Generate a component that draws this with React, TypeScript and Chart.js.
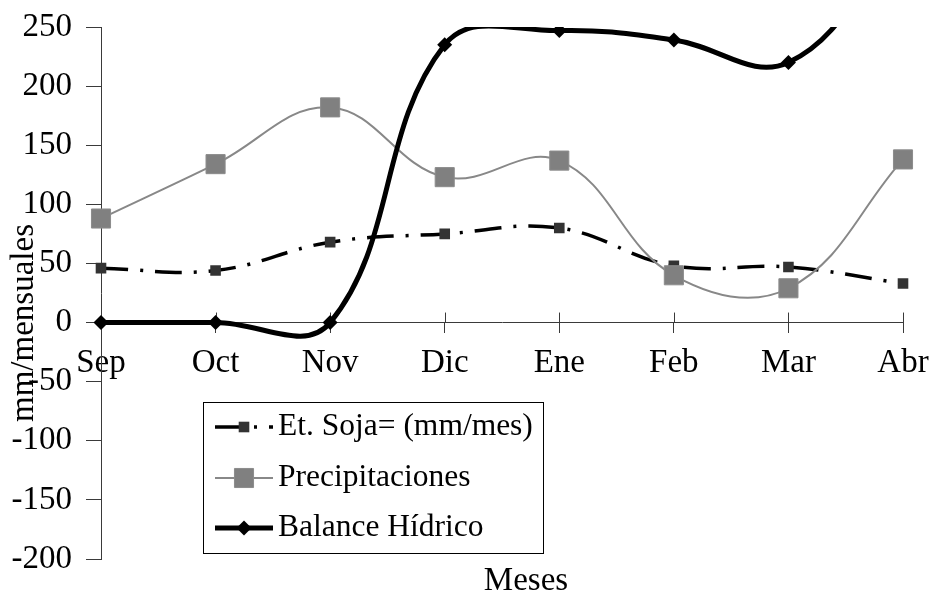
import React, { useEffect, useRef } from 'react';
import { Chart, registerables } from 'chart.js';

Chart.register(...registerables);

// ---- data ----
const categories = ['Sep', 'Oct', 'Nov', 'Dic', 'Ene', 'Feb', 'Mar', 'Abr'];
const etSoja = [46, 44, 68, 75, 80, 48, 47, 33];
const precipitaciones = [88, 134, 182, 123, 137, 40, 29, 138];
const balanceHidrico = [0, 0, 0, 235, 247, 239, 220, 330];
const yMin = -200;
const yMax = 250;
const yStep = 50;
const seriesLabels = ['Et. Soja= (mm/mes)', 'Precipitaciones', 'Balance Hídrico'];
const xTitle = 'Meses';
const yTitle = 'mm/mensuales';

const FONT = '"Liberation Serif", "Times New Roman", serif';
const AXIS = '#3a3a3a';

function drawMarker(ctx: CanvasRenderingContext2D, style: string, x: number, y: number, r: number, fill: string, stroke: string, bw: number) {
  ctx.save();
  ctx.fillStyle = fill;
  ctx.strokeStyle = stroke;
  ctx.lineWidth = bw;
  ctx.setLineDash([]);
  ctx.beginPath();
  if (style === 'rect') {
    const s = Math.SQRT1_2 * r;
    ctx.rect(x - s, y - s, 2 * s, 2 * s);
  } else {
    ctx.moveTo(x - r, y);
    ctx.lineTo(x, y - r);
    ctx.lineTo(x + r, y);
    ctx.lineTo(x, y + r);
    ctx.closePath();
  }
  ctx.fill();
  if (bw > 0) ctx.stroke();
  ctx.restore();
}

const decorPlugin = {
  id: 'decor',
  beforeDatasetsDraw(chart: any) {
    const ctx = chart.ctx as CanvasRenderingContext2D;
    const xs = chart.scales.x;
    const ys = chart.scales.y;
    const y0 = ys.getPixelForValue(0);
    ctx.save();
    ctx.strokeStyle = AXIS;
    ctx.lineWidth = 1;
    xs.ticks.forEach((_: any, i: number) => {
      const px = Math.round(xs.getPixelForTick(i)) + 0.5;
      ctx.beginPath();
      ctx.moveTo(px, y0 - 10);
      ctx.lineTo(px, y0);
      ctx.stroke();
    });
    ctx.restore();
  },
  afterDraw(chart: any) {
    const ctx = chart.ctx as CanvasRenderingContext2D;
    ctx.save();
    // axis titles
    ctx.fillStyle = '#000';
    ctx.font = `33px ${FONT}`;
    ctx.textAlign = 'center';
    ctx.textBaseline = 'alphabetic';
    ctx.fillText(xTitle, 526, 590);
    ctx.save();
    ctx.translate(33, 323);
    ctx.rotate(-Math.PI / 2);
    ctx.font = `33px ${FONT}`;
    ctx.fillText(yTitle, 0, 0);
    ctx.restore();

    // legend
    const lx = 203.5, ly = 402.5, lw = 340, lh = 151;
    ctx.fillStyle = '#fff';
    ctx.fillRect(lx, ly, lw, lh);
    ctx.strokeStyle = '#000';
    ctx.lineWidth = 1;
    ctx.strokeRect(lx, ly, lw, lh);
    const rows = [427, 478, 528];
    chart.data.datasets.forEach((ds: any, i: number) => {
      const yy = rows[i];
      ctx.save();
      ctx.strokeStyle = ds.borderColor;
      ctx.lineWidth = ds.borderWidth;
      ctx.setLineDash(ds.borderDash || []);
      ctx.beginPath();
      ctx.moveTo(215, yy);
      ctx.lineTo(273, yy);
      ctx.stroke();
      ctx.restore();
      drawMarker(ctx, ds.pointStyle, 244, yy, ds.pointRadius, ds.pointBackgroundColor, ds.pointBorderColor, ds.pointBorderWidth);
      ctx.fillStyle = '#000';
      ctx.font = `31.5px ${FONT}`;
      ctx.textAlign = 'left';
      ctx.textBaseline = 'middle';
      ctx.fillText(ds.label, 278, yy);
    });
    ctx.restore();
  },
};

export default function App() {
  const ref = useRef<HTMLCanvasElement | null>(null);
  useEffect(() => {
    document.body.style.margin = '0';
    const canvas = ref.current;
    if (!canvas) return;
    Chart.defaults.font.family = FONT;
    Chart.defaults.color = '#000';
    const chart = new Chart(canvas, {
      type: 'line',
      data: {
        labels: categories,
        datasets: [
          {
            label: seriesLabels[0],
            data: etSoja,
            borderColor: '#000',
            borderWidth: 3.5,
            borderDash: [27, 12, 3, 12],
            pointStyle: 'rect',
            pointRadius: 7.5,
            pointBackgroundColor: '#333333',
            pointBorderColor: '#333333',
            pointBorderWidth: 0,
            tension: 0.4,
            fill: false,
            order: 2,
          },
          {
            label: seriesLabels[1],
            data: precipitaciones,
            borderColor: '#888888',
            borderWidth: 2,
            pointStyle: 'rect',
            pointRadius: 13.5,
            pointBackgroundColor: '#808080',
            pointBorderColor: '#8c8c8c',
            pointBorderWidth: 1,
            tension: 0.4,
            fill: false,
            order: 1,
          },
          {
            label: seriesLabels[2],
            data: balanceHidrico,
            borderColor: '#000',
            borderWidth: 5,
            pointStyle: 'rectRot',
            pointRadius: 7.5,
            pointBackgroundColor: '#000',
            pointBorderColor: '#000',
            pointBorderWidth: 0,
            tension: 0.4,
            fill: false,
            order: 0,
          },
        ],
      },
      options: {
        responsive: false,
        animation: false,
        devicePixelRatio: 1,
        layout: { padding: { top: 27, right: 29, bottom: 33, left: 0 } },
        elements: { line: { capBezierPoints: false } },
        plugins: {
          legend: { display: false },
          tooltip: { enabled: false },
          title: { display: false },
        },
        scales: {
          x: {
            type: 'category',
            position: { y: 0 } as any,
            offset: false,
            grid: { display: true, drawOnChartArea: false, drawTicks: true, tickLength: 10, color: AXIS },
            border: { display: true, color: AXIS, width: 1 },
            ticks: { font: { size: 33, family: FONT }, color: '#000', padding: 11, maxRotation: 0, autoSkip: false },
            afterFit: (scale: any) => {
              scale.paddingLeft = 0;
              scale.paddingRight = 0;
            },
          },
          y: {
            type: 'linear',
            min: yMin,
            max: yMax,
            ticks: { stepSize: yStep, font: { size: 33, family: FONT }, color: '#000', padding: 14 },
            grid: { drawOnChartArea: false, drawTicks: true, tickLength: 15, color: AXIS },
            border: { display: true, color: AXIS, width: 1 },
            afterFit: (scale: any) => {
              scale.width = 101;
              scale.paddingTop = 0;
              scale.paddingBottom = 0;
            },
          },
        },
      },
      plugins: [decorPlugin],
    });
    return () => chart.destroy();
  }, []);
  return (
    <div style={{ width: 932, height: 592, position: 'relative' }}>
      <canvas ref={ref} width={932} height={592} style={{ width: 932, height: 592, display: 'block' }} />
    </div>
  );
}
